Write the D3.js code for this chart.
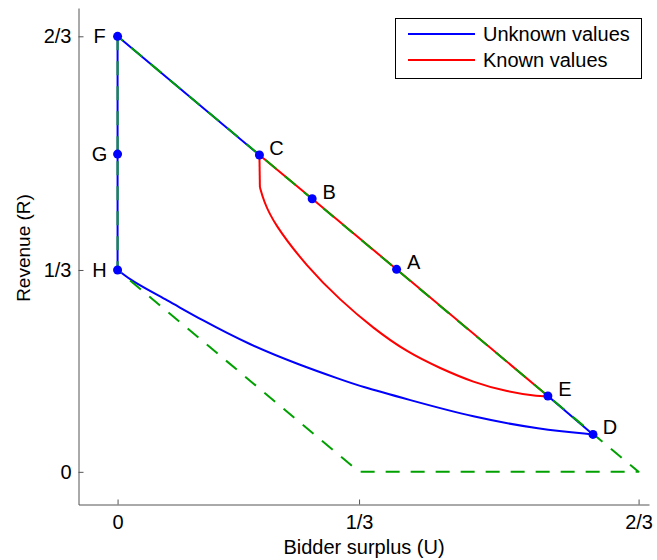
<!DOCTYPE html>
<html>
<head>
<meta charset="utf-8">
<script src="https://cdn.jsdelivr.net/npm/d3@7"></script>
<style>
    body { margin: 0; background: #fff; }
    text { font-family: "Liberation Sans", Arial, sans-serif; fill: #000; }
</style>
</head>
<body>
<div id="chart-container"></div>
<script>
// the "1/3" mark sits at this value on both axes
var third = 0.309;

// tick values and labels (same on both axes)
var tickValues = [0, third, 2 / 3];
var tickLabels = ["0", "1/3", "2/3"];

// named points [U, R]
var pointNames = ["F", "G", "H", "C", "B", "A", "E", "D"];
var pointU = [0, 0, 0, 0.1815, 0.249, 0.357, 0.5506, 0.6083];
var pointR = [2 / 3, 0.4864, third, 0.4849, 0.418, 0.310, 0.1161, 0.0573];

// blue curve from H to D (unknown values)
var unknownU = [0, 0.0203, 0.0638, 0.1060, 0.1700, 0.2339, 0.2850, 0.3106, 0.3707, 0.4551, 0.5408, 0.6083];
var unknownR = [third, 0.2902, 0.2626, 0.2335, 0.1937, 0.1632, 0.1416, 0.1309, 0.1110, 0.0834, 0.0650, 0.0573];

// red curve from C down and over to E (known values)
var knownU = [0.1815, 0.1821, 0.1866, 0.1994, 0.2428, 0.2850, 0.3272, 0.3707, 0.4129, 0.4551, 0.4986, 0.5408, 0.5506];
var knownR = [0.4849, 0.4359, 0.4160, 0.3807, 0.3133, 0.2627, 0.2197, 0.1830, 0.1584, 0.1370, 0.1225, 0.1150, 0.1161];

// green dashed feasible region
var regionU = [0, 0, third, 2 / 3, 0];
var regionR = [2 / 3, third, 0, 0, 2 / 3];

var legendNames = ["Unknown values", "Known values"];
var legendColors = ["#0000ff", "#ff0000"];

function zipPoints(us, rs) {
    return us.map(function (u, i) { return [u, rs[i]]; });
}

function pointByName(name) {
    var i = pointNames.indexOf(name);
    return [pointU[i], pointR[i]];
}

var width = 657;
var height = 560;

var svg = d3.select("#chart-container")
    .append("svg")
    .attr("width", width)
    .attr("height", height);

var xScale = d3.scaleLinear()
    .domain([-0.05, 0.68])
    .range([78.5, 649]);

var yScale = d3.scaleLinear()
    .domain([-0.05, 0.71])
    .range([504.5, 8]);

// Y axis (ticks point inward)
var yAxis = svg.append("g")
    .attr("transform", "translate(78.5,0)")
    .call(d3.axisLeft(yScale)
        .tickValues(tickValues)
        .tickFormat(function (d, i) { return tickLabels[i]; })
        .tickSizeInner(-5)
        .tickSizeOuter(0)
        .tickPadding(7));

// X axis
var xAxis = svg.append("g")
    .attr("transform", "translate(0,504.5)")
    .call(d3.axisBottom(xScale)
        .tickValues(tickValues)
        .tickFormat(function (d, i) { return tickLabels[i]; })
        .tickSizeInner(-5)
        .tickSizeOuter(0)
        .tickPadding(10));

[xAxis, yAxis].forEach(function (ax) {
    ax.select(".domain").attr("stroke", "#555");
    ax.selectAll(".tick line").attr("stroke", "#555");
    ax.selectAll("text")
        .style("font-size", "20px")
        .attr("fill", "#000");
});

// axis labels
svg.append("text")
    .attr("transform", "rotate(-90)")
    .attr("x", -248)
    .attr("y", 30)
    .style("text-anchor", "middle")
    .style("font-size", "19px")
    .text("Revenue (R)");

svg.append("text")
    .attr("x", 364)
    .attr("y", 554)
    .style("text-anchor", "middle")
    .style("font-size", "20px")
    .text("Bidder surplus (U)");

var line = d3.line()
    .x(function (d) { return xScale(d[0]); })
    .y(function (d) { return yScale(d[1]); });

// b-spline smooths out the reading noise in the curves
var smoothLine = d3.line()
    .x(function (d) { return xScale(d[0]); })
    .y(function (d) { return yScale(d[1]); })
    .curve(d3.curveBasis);

var plot = svg.append("g")
    .attr("fill", "none")
    .attr("stroke-width", 2)
    .attr("stroke-linejoin", "round");

// unknown values (blue)
plot.append("path")
    .attr("d", line([pointByName("C"), pointByName("F"), pointByName("G"), pointByName("H")]))
    .attr("stroke", "#0000ff");
plot.append("path")
    .attr("d", smoothLine(zipPoints(unknownU, unknownR)))
    .attr("stroke", "#0000ff");
plot.append("path")
    .attr("d", line([pointByName("E"), pointByName("D")]))
    .attr("stroke", "#0000ff");

// known values (red)
var known = zipPoints(knownU, knownR);
plot.append("path")
    .attr("d", line([pointByName("C"), pointByName("B"), pointByName("A"), pointByName("E")]))
    .attr("stroke", "#ff0000");
plot.append("path")
    .attr("d", line(known.slice(0, 2)))
    .attr("stroke", "#ff0000");
plot.append("path")
    .attr("d", smoothLine(known.slice(1)))
    .attr("stroke", "#ff0000");

// region boundary (green dashed)
plot.append("path")
    .attr("d", line(zipPoints(regionU, regionR)))
    .attr("stroke", "#00a000")
    .attr("stroke-dasharray", "14,11");

// points
var pts = pointNames.map(function (n, i) {
    return { name: n, u: pointU[i], r: pointR[i] };
});

svg.selectAll("circle.pt")
    .data(pts)
    .enter()
    .append("circle")
    .attr("class", "pt")
    .attr("cx", function (d) { return xScale(d.u); })
    .attr("cy", function (d) { return yScale(d.r); })
    .attr("r", 4.5)
    .attr("fill", "#0000ff");

// point labels: left of the vertical ones, up-right of the rest
svg.selectAll("text.pt-label")
    .data(pts)
    .enter()
    .append("text")
    .attr("class", "pt-label")
    .attr("x", function (d) { return xScale(d.u) + (d.u === 0 ? -18 : 17); })
    .attr("y", function (d) { return yScale(d.r) + (d.u === 0 ? 0 : -7); })
    .attr("dy", "0.35em")
    .style("text-anchor", "middle")
    .style("font-size", "20px")
    .text(function (d) { return d.name; });

// legend
var legend = svg.append("g");

legend.append("rect")
    .attr("x", 395.5)
    .attr("y", 18.5)
    .attr("width", 246)
    .attr("height", 60)
    .attr("fill", "#fff")
    .attr("stroke", "#000");

legend.selectAll("line")
    .data(legendNames)
    .enter()
    .append("line")
    .attr("x1", 408)
    .attr("x2", 475)
    .attr("y1", function (d, i) { return 34 + i * 26; })
    .attr("y2", function (d, i) { return 34 + i * 26; })
    .attr("stroke-width", 2)
    .attr("stroke", function (d, i) { return legendColors[i]; });

legend.selectAll("text")
    .data(legendNames)
    .enter()
    .append("text")
    .attr("x", 483)
    .attr("y", function (d, i) { return 34 + i * 26; })
    .attr("dy", "0.35em")
    .style("font-size", "20px")
    .text(function (d) { return d; });
</script>
</body>
</html>
